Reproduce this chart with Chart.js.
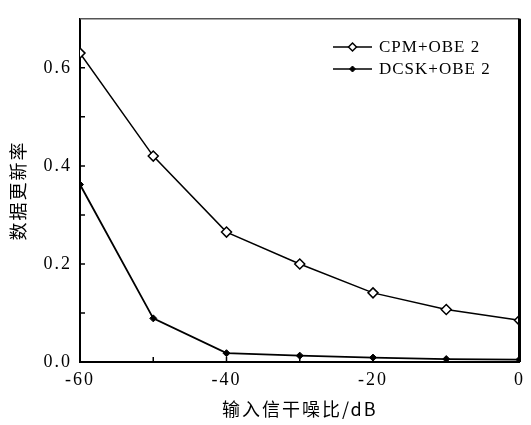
<!DOCTYPE html>
<html>
<head>
<meta charset="utf-8">
<script src="https://cdn.jsdelivr.net/npm/chart.js@4/dist/chart.umd.min.js"></script>
<style>
    html, body { margin: 0; padding: 0; background: #fff; }
    #wrap { width: 531px; height: 425px; }
</style>
</head>
<body>
<div id="wrap"><canvas id="chart"></canvas></div>
<script>
// Data
const snrValues = [-60, -50, -40, -30, -20, -10, 0];
const cpmRates = [0.63, 0.42, 0.265, 0.20, 0.141, 0.107, 0.085];
const dcskRates = [0.362, 0.089, 0.018, 0.013, 0.009, 0.006, 0.005];
const seriesNames = ['CPM+OBE 2', 'DCSK+OBE 2'];
const xLabelTicks = [-60, -40, -20, 0];
const yLabelTicks = [0, 0.2, 0.4, 0.6];

const SERIF = '"Liberation Serif", "DejaVu Serif", serif';
const CJK = '"Noto Sans CJK SC", sans-serif';

function toPoints(values) {
    return snrValues.map((x, i) => ({ x: x, y: values[i] }));
}

// wider letter spacing like the original print font
const spacingPlugin = {
    id: 'spacing',
    beforeDraw(chart) {
        chart.ctx.letterSpacing = '2px';
    }
};

// inward tick marks, frame and legend
const framePlugin = {
    id: 'frame',
    afterDraw(chart) {
        const ctx = chart.ctx;
        const area = chart.chartArea;
        const xs = chart.scales.x;
        const ys = chart.scales.y;
        ctx.save();
        ctx.strokeStyle = '#000';
        ctx.lineWidth = 1.5;
        ctx.beginPath();
        xs.ticks.forEach(t => {
            const px = xs.getPixelForValue(t.value);
            ctx.moveTo(px, area.bottom);
            ctx.lineTo(px, area.bottom - 5);
        });
        ys.ticks.forEach(t => {
            if (t.value >= ys.max) return;
            const py = ys.getPixelForValue(t.value);
            ctx.moveTo(area.left, py);
            ctx.lineTo(area.left + 5, py);
        });
        ctx.stroke();

        // top and right frame
        ctx.strokeStyle = '#555';
        ctx.lineWidth = 1.5;
        ctx.beginPath();
        ctx.moveTo(area.left, area.top);
        ctx.lineTo(area.right, area.top);
        ctx.stroke();
        ctx.strokeStyle = '#000';
        ctx.lineWidth = 3;
        ctx.beginPath();
        ctx.moveTo(area.right, area.top);
        ctx.lineTo(area.right, area.bottom);
        ctx.stroke();

        // legend
        const lx0 = 333, lx1 = 372, tx = 379;
        const rows = [47, 69];
        chart.data.datasets.forEach((ds, i) => {
            const y = rows[i];
            const cx = (lx0 + lx1) / 2;
            const r = i === 0 ? 4 : 3;
            ctx.strokeStyle = '#000';
            ctx.lineWidth = 1.5;
            ctx.beginPath();
            ctx.moveTo(lx0, y);
            ctx.lineTo(lx1, y);
            ctx.stroke();
            ctx.fillStyle = ds.pointBackgroundColor;
            ctx.lineWidth = ds.pointBorderWidth;
            ctx.beginPath();
            ctx.moveTo(cx, y - r);
            ctx.lineTo(cx + r, y);
            ctx.lineTo(cx, y + r);
            ctx.lineTo(cx - r, y);
            ctx.closePath();
            ctx.fill();
            ctx.stroke();
            ctx.fillStyle = '#000';
            ctx.letterSpacing = '1px';
            ctx.font = '17px ' + SERIF;
            ctx.textBaseline = 'middle';
            ctx.textAlign = 'left';
            ctx.fillText(seriesNames[i], tx, y + 1);
        });
        ctx.restore();
    }
};

new Chart(document.getElementById('chart'), {
    type: 'line',
    data: {
        datasets: [
            {
                label: seriesNames[0],
                data: toPoints(cpmRates),
                borderColor: '#000',
                borderWidth: 1.5,
                pointStyle: 'rectRot',
                pointRadius: 5,
                pointBackgroundColor: '#fff',
                pointBorderColor: '#000',
                pointBorderWidth: 1.5,
                tension: 0
            },
            {
                label: seriesNames[1],
                data: toPoints(dcskRates),
                borderColor: '#000',
                borderWidth: 1.8,
                pointStyle: 'rectRot',
                pointRadius: 3.5,
                pointBackgroundColor: '#000',
                pointBorderColor: '#000',
                pointBorderWidth: 1,
                tension: 0
            }
        ]
    },
    options: {
        responsive: true,
        maintainAspectRatio: false,
        animation: false,
        layout: { padding: { top: 9, right: 4, left: 0, bottom: 0 } },
        plugins: {
            legend: { display: false },
            tooltip: { enabled: false }
        },
        scales: {
            x: {
                type: 'linear',
                min: -60,
                max: 0,
                grid: { drawOnChartArea: false, drawTicks: false },
                border: { color: '#000', width: 2 },
                ticks: {
                    stepSize: 10,
                    padding: 7,
                    color: '#000',
                    maxRotation: 0,
                    font: { family: SERIF, size: 18 },
                    callback: v => xLabelTicks.includes(v) ? String(v) : ''
                },
                title: {
                    display: true,
                    text: '输入信干噪比/dB',
                    color: '#000',
                    font: { family: CJK, size: 18 },
                    padding: { top: 0, bottom: 5 }
                },
                afterFit: scale => { scale.height = 63; }
            },
            y: {
                min: 0,
                max: 0.7,
                grid: { drawOnChartArea: false, drawTicks: false },
                border: { color: '#000', width: 2 },
                ticks: {
                    stepSize: 0.1,
                    padding: 8,
                    color: '#000',
                    font: { family: SERIF, size: 18 },
                    callback: v => {
                        const hit = yLabelTicks.find(t => Math.abs(t - v) < 1e-6);
                        return hit !== undefined ? hit.toFixed(1) : '';
                    }
                },
                title: {
                    display: true,
                    text: '数据更新率',
                    color: '#000',
                    font: { family: CJK, size: 18 },
                    padding: { top: 7, bottom: 0 }
                },
                afterFit: scale => { scale.width = 80; }
            }
        }
    },
    plugins: [spacingPlugin, framePlugin]
});
</script>
</body>
</html>
